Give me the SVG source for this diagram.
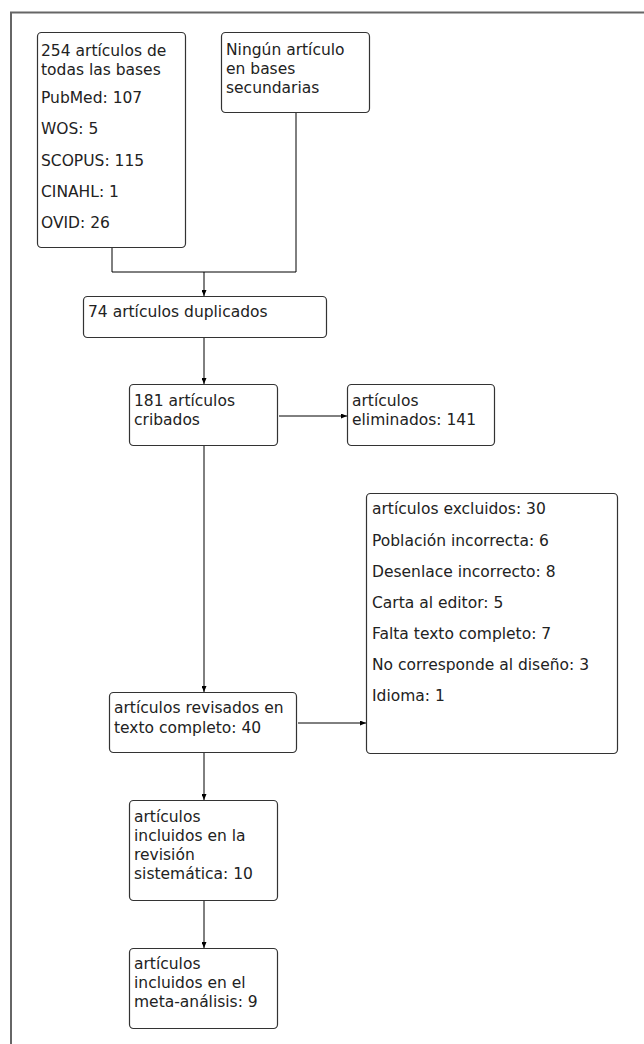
<svg xmlns="http://www.w3.org/2000/svg" width="644" height="1044" viewBox="0 0 644 1044">
<defs>
<marker id="arr" markerWidth="6" markerHeight="5" refX="6" refY="2.5" orient="auto" markerUnits="userSpaceOnUse">
<path d="M0,0 L6,2.5 L0,5 z" fill="#000"/>
</marker>
<style>
.box{fill:#fff;stroke:#333;stroke-width:1.2}
.t{font-family:"DejaVu Sans",Verdana,sans-serif;font-size:15.5px;fill:#222}
.c{fill:none;stroke:#000;stroke-width:1}
</style>
</defs>
<rect x="0" y="0" width="644" height="1044" fill="#fff"/>
<rect x="11" y="12.5" width="700" height="1100" fill="none" stroke="#666" stroke-width="2"/>
<g id="connectors">
<path class="c" d="M112,248 V272 H296 V112"/>
<path class="c" d="M204,272 V296" marker-end="url(#arr)"/>
<path class="c" d="M204,337 V384" marker-end="url(#arr)"/>
<path class="c" d="M279,416 H347" marker-end="url(#arr)"/>
<path class="c" d="M204,446 V692" marker-end="url(#arr)"/>
<path class="c" d="M298,723 H366" marker-end="url(#arr)"/>
<path class="c" d="M204,752 V800" marker-end="url(#arr)"/>
<path class="c" d="M204,900 V948" marker-end="url(#arr)"/>
</g>
<g id="n1">
<rect class="box" x="37.5" y="32.5" width="148" height="215" rx="4"/>
<text class="t" x="41" y="56">254 artículos de</text>
<text class="t" x="41" y="75">todas las bases</text>
<text class="t" x="41" y="103">PubMed: 107</text>
<text class="t" x="41" y="134">WOS: 5</text>
<text class="t" x="41" y="166">SCOPUS: 115</text>
<text class="t" x="41" y="197">CINAHL: 1</text>
<text class="t" x="41" y="228">OVID: 26</text>
</g>
<g id="n2">
<rect class="box" x="221.5" y="32.5" width="148" height="80" rx="4"/>
<text class="t" x="226" y="55">Ningún artículo</text>
<text class="t" x="226" y="74">en bases</text>
<text class="t" x="226" y="93">secundarias</text>
</g>
<g id="n3">
<rect class="box" x="83.5" y="296.5" width="243" height="41" rx="4"/>
<text class="t" x="88" y="317">74 artículos duplicados</text>
</g>
<g id="n4">
<rect class="box" x="129.5" y="384.5" width="148" height="61" rx="4"/>
<text class="t" x="134" y="406">181 artículos</text>
<text class="t" x="134" y="425">cribados</text>
</g>
<g id="n5">
<rect class="box" x="347.5" y="384.5" width="147" height="61" rx="4"/>
<text class="t" x="352" y="406">artículos</text>
<text class="t" x="352" y="425">eliminados: 141</text>
</g>
<g id="n6">
<rect class="box" x="109.5" y="692.5" width="187" height="60" rx="4"/>
<text class="t" x="114" y="713">artículos revisados en</text>
<text class="t" x="114" y="733">texto completo: 40</text>
</g>
<g id="n7">
<rect class="box" x="366.5" y="493.5" width="251" height="260" rx="4"/>
<text class="t" x="372" y="514">artículos excluidos: 30</text>
<text class="t" x="372" y="546">Población incorrecta: 6</text>
<text class="t" x="372" y="577">Desenlace incorrecto: 8</text>
<text class="t" x="372" y="608">Carta al editor: 5</text>
<text class="t" x="372" y="639">Falta texto completo: 7</text>
<text class="t" x="372" y="670">No corresponde al diseño: 3</text>
<text class="t" x="372" y="701">Idioma: 1</text>
</g>
<g id="n8">
<rect class="box" x="129.5" y="800.5" width="148" height="100" rx="4"/>
<text class="t" x="134" y="822">artículos</text>
<text class="t" x="134" y="841">incluidos en la</text>
<text class="t" x="134" y="860">revisión</text>
<text class="t" x="134" y="879">sistemática: 10</text>
</g>
<g id="n9">
<rect class="box" x="129.5" y="948.5" width="148" height="80" rx="4"/>
<text class="t" x="134" y="969">artículos</text>
<text class="t" x="134" y="988">incluidos en el</text>
<text class="t" x="134" y="1007">meta-análisis: 9</text>
</g>
</svg>
